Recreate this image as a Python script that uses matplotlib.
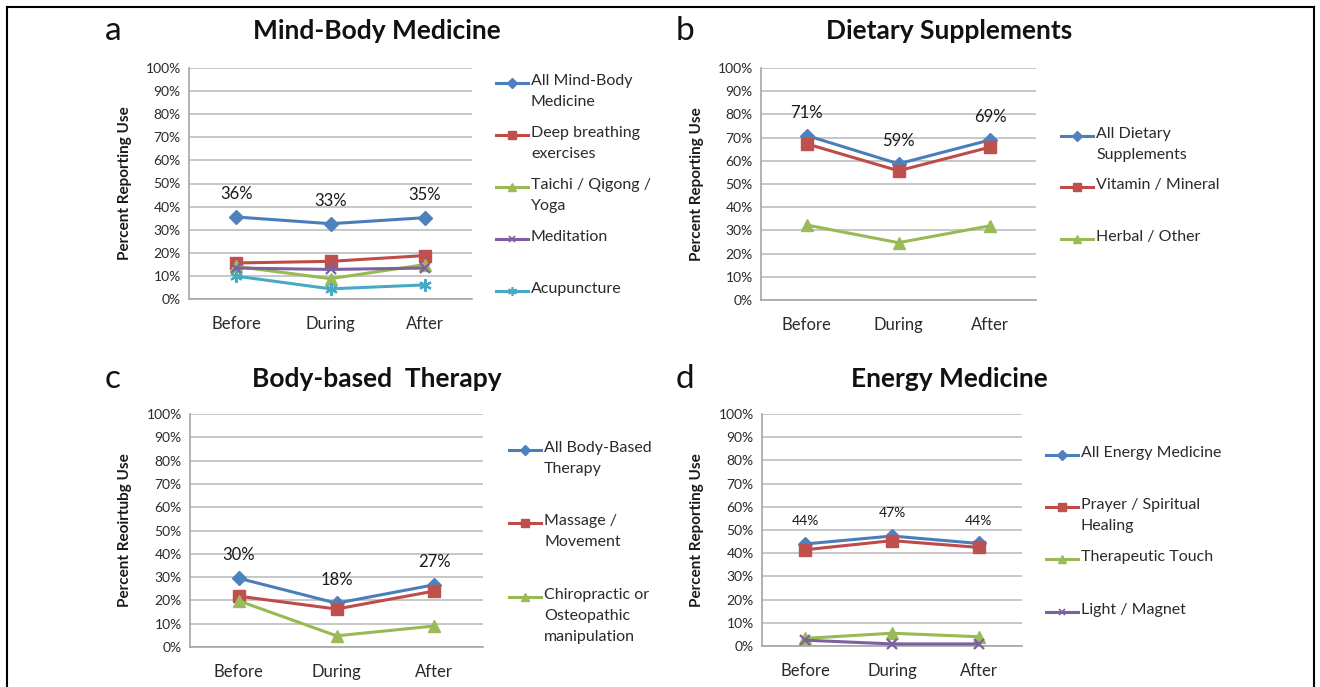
import matplotlib
matplotlib.use("Agg")
import matplotlib.pyplot as plt
from matplotlib.lines import Line2D

plt.rcParams['font.family'] = ['Lato', 'DejaVu Sans']

# ---- data (percent reporting use) ----
periods = ['Before', 'During', 'After']

mind_labels = ['All Mind-Body\nMedicine', 'Deep breathing\nexercises',
               'Taichi / Qigong /\nYoga', 'Meditation', 'Acupuncture']
mind_all = [35.5, 32.6, 35.2]
mind_breath = [15.6, 16.3, 18.8]
mind_taichi = [14.1, 8.8, 14.9]
mind_medit = [13.4, 12.8, 13.4]
mind_acup = [9.9, 4.4, 6.1]
mind_text = ['36%', '33%', '35%']

diet_labels = ['All Dietary\nSupplements', 'Vitamin / Mineral', 'Herbal / Other']
diet_all = [70.9, 58.7, 69.0]
diet_vit = [67.3, 55.7, 65.9]
diet_herb = [32.3, 24.7, 32.0]
diet_text = ['71%', '59%', '69%']

body_labels = ['All Body-Based\nTherapy', 'Massage /\nMovement',
               'Chiropractic or\nOsteopathic\nmanipulation']
body_all = [29.5, 18.8, 26.7]
body_mass = [21.8, 16.3, 24.0]
body_chiro = [19.8, 4.8, 9.0]
body_text = ['30%', '18%', '27%']

energy_labels = ['All Energy Medicine', 'Prayer / Spiritual\nHealing',
                 'Therapeutic Touch', 'Light / Magnet']
energy_all = [44.0, 47.4, 44.2]
energy_prayer = [41.5, 45.4, 42.5]
energy_touch = [3.3, 5.5, 4.0]
energy_light = [2.5, 0.9, 0.9]
energy_text = ['44%', '47%', '44%']

# ---- styles (Excel 2007 look) ----
BLUE = ('#4A7EBB', 'D', 7, '#4F81BD')
RED = ('#BE4B48', 's', 8, '#C0504D')
GREEN = ('#98B954', '^', 8, '#9BBB59')
PURPLE = ('#7D60A0', 'x', 7, '#8064A2')
CYAN = ('#46AAC5', (6, 2, 0), 9, '#4BACC6')

W, H = 1320, 687
fig = plt.figure(figsize=(W / 100, H / 100), dpi=100)


def fx(x):
    return x / W


def fy(y):
    return 1 - y / H


def panel(box, letter, title, title_x, title_y, ylabel, ylabel_x, series, labels,
          texts, text_size, leg_x, leg_ys):
    left, right, top, bottom = box
    ax = fig.add_axes([fx(left), fy(bottom), (right - left) / W, (bottom - top) / H])
    xs = range(len(periods))
    for vals, (c, m, ms, mc) in series:
        kw = dict(mew=1.6) if m in ('x', (6, 2, 0)) else dict(mec=mc)
        ax.plot(xs, vals, color=c, lw=2.2, marker=m, ms=ms, mfc=mc, zorder=3,
                clip_on=False, **kw)
    for i, t in enumerate(texts):
        ax.annotate(t, (i, series[0][0][i]), xytext=(0, 16.5), textcoords='offset points',
                    ha='center', va='center', fontsize=text_size, color='#1a1a1a')
    ax.set_xlim(-0.5, 2.5)
    ax.set_ylim(0, 100)
    ax.set_yticks(range(0, 101, 10))
    ax.set_yticklabels([f'{v}%' for v in range(0, 101, 10)], fontsize=10, color='#2a2a2a')
    ax.set_xticks(list(xs))
    ax.set_xticklabels(periods, fontsize=12, color='#2a2a2a')
    ax.tick_params(length=0, pad=12, axis='x')
    ax.tick_params(length=0, pad=6, axis='y')
    ax.grid(axis='y', color='#BEBEBE', lw=1.2)
    ax.set_axisbelow(True)
    for s in ('top', 'right'):
        ax.spines[s].set_visible(False)
    for s in ('left', 'bottom'):
        ax.spines[s].set_color('#A6A6A6')
        ax.spines[s].set_linewidth(1.2)
    fig.text(fx(ylabel_x), fy((top + bottom) / 2), ylabel, rotation=90, ha='center',
             va='center', fontsize=11, fontweight='bold', color='#1a1a1a')
    fig.text(fx(title_x), fy(title_y), title, ha='center', va='center', fontsize=19,
             fontweight='bold', color='#111111')
    fig.text(fx(title_x - 264), fy(title_y), letter, ha='center', va='center',
             fontsize=24, color='#111111')
    # legend drawn entry by entry so the handle sits on the first text line
    for (vals, (c, m, ms, mc)), lab, ly in zip(series, labels, leg_ys):
        kw = dict(mew=1.2) if m in ('x', (6, 2, 0)) else dict(mec=mc)
        fig.add_artist(Line2D([fx(leg_x), fx(leg_x + 32)], [fy(ly), fy(ly)], color=c, lw=2.2))
        fig.add_artist(Line2D([fx(leg_x + 16)], [fy(ly)], color=c, lw=0, marker=m,
                              ms=ms * 0.7, mfc=mc, **kw))
        fig.text(fx(leg_x + 35), fy(ly - 9), lab, ha='left', va='top', fontsize=11.5,
                 color='#2a2a2a', linespacing=1.65)
    return ax


panel((189, 472, 68, 299), 'a', 'Mind-Body Medicine', 377, 31, 'Percent Reporting Use', 125,
      [(mind_all, BLUE), (mind_breath, RED), (mind_taichi, GREEN),
       (mind_medit, PURPLE), (mind_acup, CYAN)],
      mind_labels, mind_text, 12, 496, [83, 135, 187, 239, 291])

panel((761, 1036, 68, 300), 'b', 'Dietary Supplements', 949, 31, 'Percent Reporting Use', 697,
      [(diet_all, BLUE), (diet_vit, RED), (diet_herb, GREEN)],
      diet_labels, diet_text, 12, 1061, [136, 187, 239])

panel((190, 483, 414, 647), 'c', 'Body-based  Therapy', 377, 379, 'Percent Reoirtubg Use', 125,
      [(body_all, BLUE), (body_mass, RED), (body_chiro, GREEN)],
      body_labels, body_text, 12, 509, [450, 523, 597])

panel((762, 1022, 414, 646), 'd', 'Energy Medicine', 949, 379, 'Percent Reporting Use', 697,
      [(energy_all, BLUE), (energy_prayer, RED), (energy_touch, GREEN), (energy_light, PURPLE)],
      energy_labels, energy_text, 10, 1046, [455, 507, 559, 612])

# outer frame (open at the bottom, as in the cropped original)
for xs_, ys_ in [([7, 1314], [7, 7]), ([7, 7], [7, 687]), ([1314, 1314], [7, 687])]:
    fig.add_artist(Line2D([fx(v) for v in xs_], [fy(v) for v in ys_], color='black', lw=1.5))

fig.savefig('out.png', dpi=100)
